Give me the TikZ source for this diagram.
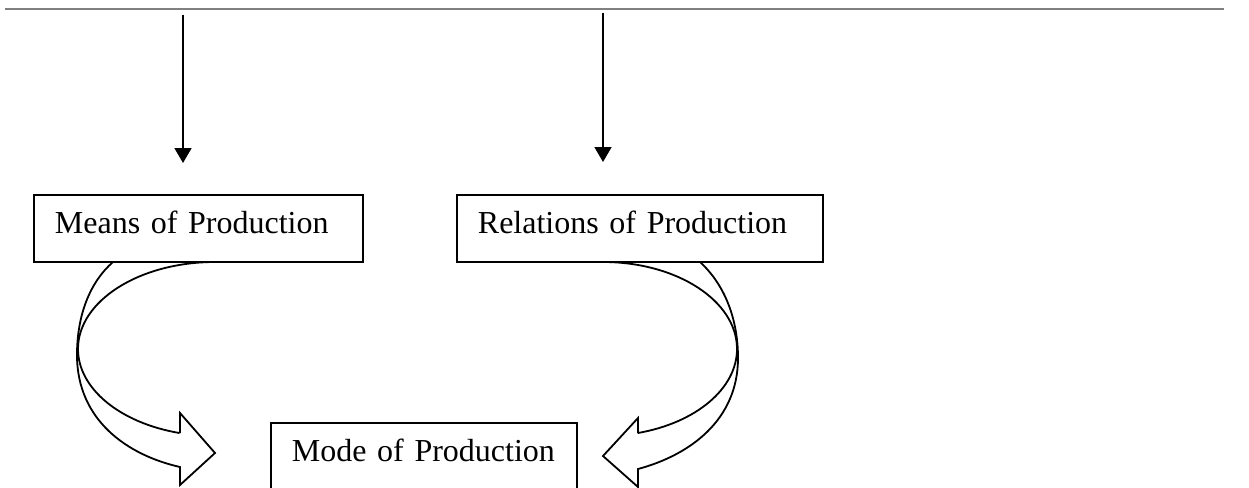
\documentclass[tikz,border=0pt]{standalone}
\usepackage{fontspec}
\setmainfont[WordSpace=0.8]{Liberation Serif}
\usetikzlibrary{arrows.meta}
\tikzset{
  box/.style={draw, line width=1.8pt, anchor=north west, inner xsep=21pt, inner ysep=17pt,
    text height=22pt, text depth=11pt, align=left, font=\fontsize{32}{38}\selectfont},
  feed/.style={line width=1.6pt, -{Triangle[width=17pt,length=15pt]}},
  bent/.style={line width=1.8pt, line join=miter},
  rule/.style={draw=black!50, line width=2.5pt}
}
\begin{document}
\begin{tikzpicture}[x=1pt, y=1pt]
\useasboundingbox (0,0) rectangle (1249,-487);
\clip (0,0) rectangle (1249,-487);

% header rule
\coordinate (ruleL) at (5,-9);
\coordinate (ruleR) at (1224,-9);
\draw[rule] (ruleL) -- (ruleR);

% boxes
\node[box, text width=287pt] (means) at (33,-194) {Means of Production};
\node[box, text width=324pt] (relations) at (456,-194) {Relations of Production};
\node[box, text width=264pt] (mode) at (270,-422) {Mode of Production};

% incoming arrows from above
\coordinate (inA) at (183,-15);
\coordinate (tipA) at (183,-163);
\coordinate (inB) at (603,-13);
\coordinate (tipB) at (603,-162);
\draw[feed] (inA) -- (tipA);
\draw[feed] (inB) -- (tipB);

% curved block arrow from the left box
\draw[bent] (113,-262) .. controls (90,-282) and (77,-315) .. (77,-355)
  .. controls (77,-420) and (127,-455) .. (180,-467)
  -- (180,-485) -- (215,-453) -- (180,-413) -- (180,-433);
\draw[bent] (215,-262) arc[start angle=90, end angle=255, x radius=137, y radius=87];

% curved block arrow from the right box
\draw[bent] (700,-262) .. controls (722,-282) and (738,-315) .. (738,-358)
  .. controls (738,-420) and (690,-455) .. (638,-469)
  -- (638,-487) -- (603,-456) -- (638,-418) -- (638,-433);
\draw[bent] (603,-262) arc[start angle=90, end angle=-75, x radius=134, y radius=87];
\end{tikzpicture}
\end{document}
